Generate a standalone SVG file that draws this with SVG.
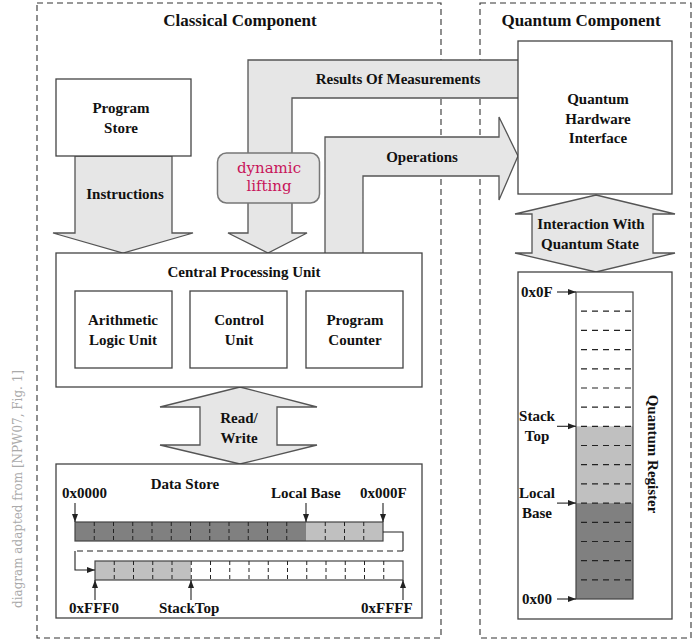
<svg xmlns="http://www.w3.org/2000/svg" width="694" height="640" viewBox="0 0 694 640">
<style>
.t{font-family:"Liberation Serif","Times New Roman",serif;font-weight:bold;font-size:15px;fill:#111;text-anchor:middle}
.ts{text-anchor:start}
.title{font-size:17px}
.box{fill:#fff;stroke:#444;stroke-width:1.3}
.arr{fill:#e6e6e6;stroke:#555;stroke-width:1.3;stroke-linejoin:miter}
.dash{fill:none;stroke:#333;stroke-width:1.1;stroke-dasharray:6 4}
.div{stroke:#222;stroke-width:1;stroke-dasharray:4 3}
.hdiv{stroke:#222;stroke-width:1.2;stroke-dasharray:6 5}
.ln{fill:none;stroke:#222;stroke-width:1.1}
</style>
<defs>
<marker id="ah" markerWidth="9" markerHeight="7" refX="8" refY="3" orient="auto" markerUnits="userSpaceOnUse">
<path d="M0,0 L8,3 L0,6 z" fill="#222"/>
</marker>
</defs>

<!-- component frames -->
<g id="frames">
<rect class="dash" x="37" y="3" width="404" height="635"/>
<rect class="dash" x="480" y="3" width="211" height="635"/>
<text class="t title" x="240" y="26">Classical Component</text>
<text class="t title" x="581" y="26">Quantum Component</text>
<text transform="translate(22,489) rotate(-90)" x="0" y="0" style="font-family:'DejaVu Serif',serif;font-size:12px;fill:#aaa;text-anchor:middle" textLength="238" lengthAdjust="spacingAndGlyphs">diagram adapted from [NPW07, Fig. 1]</text>
</g>

<!-- connectors -->
<g id="connectors">
<g id="instructions">
<polygon class="arr" points="75,156 75,233 53,233 123,253 193,233 172,233 172,156"/>
<text class="t" x="125" y="199">Instructions</text>
</g>
<g id="results">
<path class="arr" d="M518,60 L248,60 L248,233 L228,233 L268,253 L307,233 L292,233 L292,98 L518,98"/>
<text class="t" x="398" y="84">Results Of Measurements</text>
</g>
<g id="operations">
<path class="arr" d="M325,253 L325,137 L499,137 L499,117 L518,156 L499,200 L499,176 L363,176 L363,253"/>
<text class="t" x="422" y="162">Operations</text>
</g>
<g id="interaction">
<polygon class="arr" points="596,195 675,214 653,214 653,253 675,253 596,272 515,253 532,253 532,214 515,214"/>
<text class="t" x="591" y="229">Interaction With</text>
<text class="t" x="590" y="249">Quantum State</text>
</g>
<g id="readwrite">
<polygon class="arr" points="240,387 317,407 277,407 277,445 317,445 240,464 160,445 200,445 200,407 160,407"/>
<text class="t" x="239" y="423">Read/</text>
<text class="t" x="239" y="443">Write</text>
</g>
</g>

<g id="dynamic-lifting">
<rect x="217.5" y="153" width="102" height="50" rx="9" fill="#e6e6e6" stroke="#777" stroke-width="1.5"/>
<text x="269" y="173" style="font-family:'DejaVu Serif',serif;font-size:15px;fill:#c8145a;text-anchor:middle">dynamic</text>
<text x="269" y="191" style="font-family:'DejaVu Serif',serif;font-size:15px;fill:#c8145a;text-anchor:middle">lifting</text>
</g>

<g id="program-store">
<rect class="box" x="56" y="79" width="135" height="77"/>
<text class="t" x="121" y="113">Program</text>
<text class="t" x="121" y="133">Store</text>
</g>

<g id="qhi">
<rect class="box" x="518" y="41" width="154" height="153"/>
<text class="t" x="598" y="104">Quantum</text>
<text class="t" x="598" y="124">Hardware</text>
<text class="t" x="598" y="143">Interface</text>
</g>

<g id="cpu">
<rect class="box" x="56" y="253" width="366" height="134"/>
<text class="t" x="244" y="277">Central Processing Unit</text>
<g id="alu">
<rect class="box" x="75" y="291" width="97" height="77"/>
<text class="t" x="123" y="325">Arithmetic</text>
<text class="t" x="123" y="345">Logic Unit</text>
</g>
<g id="control-unit">
<rect class="box" x="190" y="291" width="97" height="77"/>
<text class="t" x="239" y="325">Control</text>
<text class="t" x="239" y="345">Unit</text>
</g>
<g id="program-counter">
<rect class="box" x="306" y="291" width="97" height="77"/>
<text class="t" x="355" y="325">Program</text>
<text class="t" x="355" y="345">Counter</text>
</g>
</g>

<g id="data-store">
<rect class="box" x="56" y="464" width="366" height="154"/>
<text class="t" x="185" y="489">Data Store</text>
<rect x="75" y="522" width="231" height="19" fill="#808080"/>
<rect x="306" y="522" width="77" height="19" fill="#c0c0c0"/>
<rect x="75" y="522" width="308" height="19" fill="none" stroke="#444" stroke-width="1.2"/>
<g class="div">
<line x1="94.25" y1="522" x2="94.25" y2="541"/><line x1="113.5" y1="522" x2="113.5" y2="541"/><line x1="132.75" y1="522" x2="132.75" y2="541"/><line x1="152" y1="522" x2="152" y2="541"/><line x1="171.25" y1="522" x2="171.25" y2="541"/><line x1="190.5" y1="522" x2="190.5" y2="541"/><line x1="209.75" y1="522" x2="209.75" y2="541"/><line x1="229" y1="522" x2="229" y2="541"/><line x1="248.25" y1="522" x2="248.25" y2="541"/><line x1="267.5" y1="522" x2="267.5" y2="541"/><line x1="286.75" y1="522" x2="286.75" y2="541"/><line x1="325.25" y1="522" x2="325.25" y2="541"/><line x1="344.5" y1="522" x2="344.5" y2="541"/><line x1="363.75" y1="522" x2="363.75" y2="541"/>
</g>
<rect x="95" y="561" width="96" height="19" fill="#c0c0c0"/>
<rect x="95" y="561" width="308" height="19" fill="none" stroke="#444" stroke-width="1.2"/>
<g class="div">
<line x1="114.25" y1="561" x2="114.25" y2="580"/><line x1="133.5" y1="561" x2="133.5" y2="580"/><line x1="152.75" y1="561" x2="152.75" y2="580"/><line x1="172" y1="561" x2="172" y2="580"/><line x1="191.25" y1="561" x2="191.25" y2="580"/><line x1="210.5" y1="561" x2="210.5" y2="580"/><line x1="229.75" y1="561" x2="229.75" y2="580"/><line x1="249" y1="561" x2="249" y2="580"/><line x1="268.25" y1="561" x2="268.25" y2="580"/><line x1="287.5" y1="561" x2="287.5" y2="580"/><line x1="306.75" y1="561" x2="306.75" y2="580"/><line x1="326" y1="561" x2="326" y2="580"/><line x1="345.25" y1="561" x2="345.25" y2="580"/><line x1="364.5" y1="561" x2="364.5" y2="580"/><line x1="383.75" y1="561" x2="383.75" y2="580"/>
</g>
<polyline class="ln" points="383,532 403,532 403,551"/>
<line x1="403" y1="551" x2="75" y2="551" stroke="#222" stroke-width="1.1" stroke-dasharray="6 4"/>
<polyline class="ln" points="75,551 75,570 95,570" marker-end="url(#ah)"/>
<line class="ln" x1="75" y1="503" x2="75" y2="522" marker-end="url(#ah)"/>
<line class="ln" x1="306" y1="503" x2="306" y2="522" marker-end="url(#ah)"/>
<line class="ln" x1="383" y1="503" x2="383" y2="522" marker-end="url(#ah)"/>
<line class="ln" x1="95" y1="600" x2="95" y2="580" marker-end="url(#ah)"/>
<line class="ln" x1="191" y1="600" x2="191" y2="580" marker-end="url(#ah)"/>
<line class="ln" x1="403" y1="600" x2="403" y2="580" marker-end="url(#ah)"/>
<text class="t ts" x="62" y="498">0x0000</text>
<text class="t ts" x="271" y="498">Local Base</text>
<text class="t ts" x="360" y="498">0x000F</text>
<text class="t ts" x="69" y="613">0xFFF0</text>
<text class="t ts" x="159" y="613">StackTop</text>
<text class="t ts" x="361" y="613">0xFFFF</text>
</g>

<g id="quantum-register">
<rect class="box" x="518" y="272" width="154" height="347"/>
<rect x="576" y="426.3" width="57" height="76.8" fill="#c0c0c0"/>
<rect x="576" y="503.1" width="57" height="95.9" fill="#808080"/>
<rect x="576" y="292" width="57" height="307" fill="none" stroke="#444" stroke-width="1.2"/>
<g class="hdiv">
<line x1="581" y1="311.2" x2="633" y2="311.2"/><line x1="581" y1="330.4" x2="633" y2="330.4"/><line x1="581" y1="349.6" x2="633" y2="349.6"/><line x1="581" y1="368.8" x2="633" y2="368.8"/><line x1="581" y1="388" x2="633" y2="388"/><line x1="581" y1="407.1" x2="633" y2="407.1"/><line x1="581" y1="426.3" x2="633" y2="426.3"/><line x1="581" y1="445.5" x2="633" y2="445.5"/><line x1="581" y1="464.7" x2="633" y2="464.7"/><line x1="581" y1="483.9" x2="633" y2="483.9"/><line x1="581" y1="503.1" x2="633" y2="503.1"/><line x1="581" y1="522.3" x2="633" y2="522.3"/><line x1="581" y1="541.5" x2="633" y2="541.5"/><line x1="581" y1="560.7" x2="633" y2="560.7"/><line x1="581" y1="579.8" x2="633" y2="579.8"/>
</g>
<line class="ln" x1="557" y1="292" x2="576" y2="292" marker-end="url(#ah)"/>
<line class="ln" x1="557" y1="426.3" x2="576" y2="426.3" marker-end="url(#ah)"/>
<line class="ln" x1="557" y1="503.1" x2="576" y2="503.1" marker-end="url(#ah)"/>
<line class="ln" x1="557" y1="599" x2="576" y2="599" marker-end="url(#ah)"/>
<text class="t ts" x="521" y="297">0x0F</text>
<text class="t" x="537" y="421">Stack</text>
<text class="t" x="537" y="441">Top</text>
<text class="t" x="537" y="498">Local</text>
<text class="t" x="537" y="518">Base</text>
<text class="t ts" x="522" y="604">0x00</text>
<text class="t" transform="translate(648,454) rotate(90)" x="0" y="0">Quantum Register</text>
</g>
</svg>
